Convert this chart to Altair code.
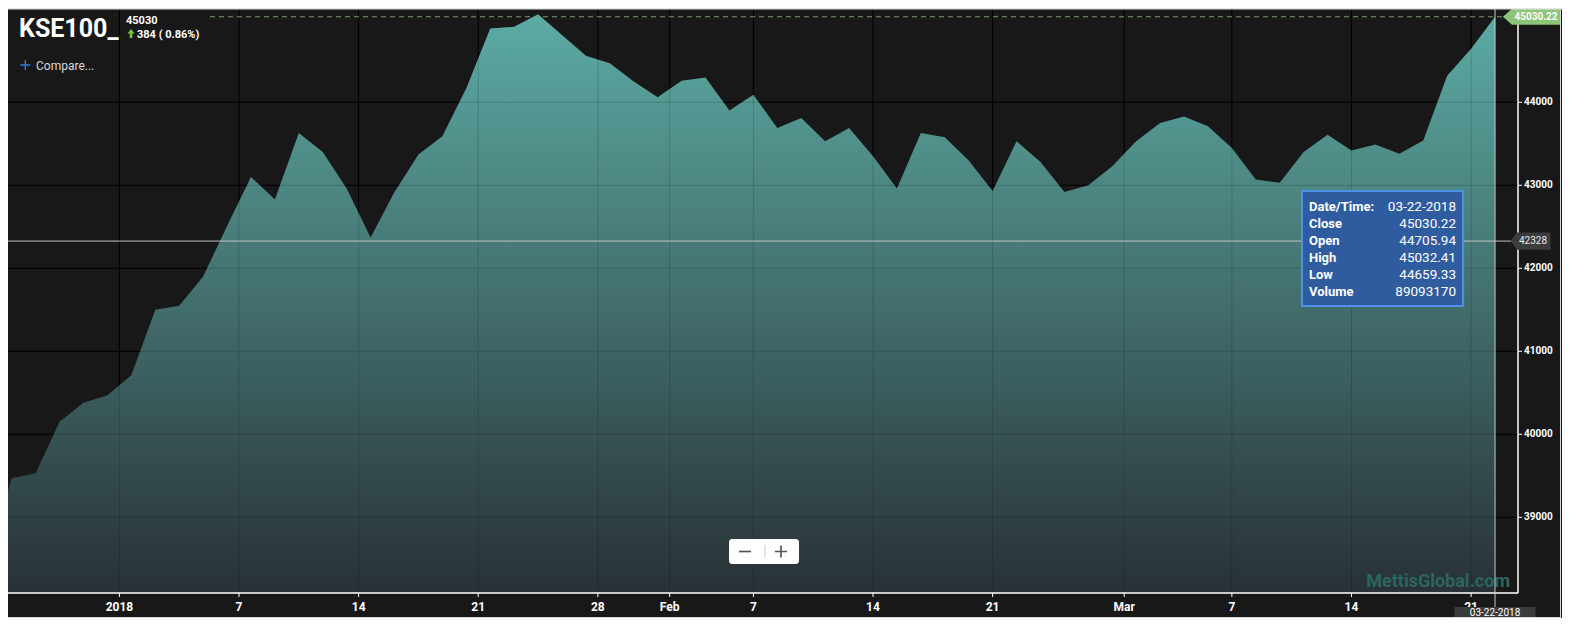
import altair as alt
import pandas as pd

# ---------------- data ----------------
dates = [
    "2017-12-21", "2017-12-22", "2017-12-26", "2017-12-27", "2017-12-28", "2017-12-29",
    "2018-01-01", "2018-01-02", "2018-01-03", "2018-01-04", "2018-01-05",
    "2018-01-08", "2018-01-09", "2018-01-10", "2018-01-11", "2018-01-12",
    "2018-01-15", "2018-01-16", "2018-01-17", "2018-01-18", "2018-01-19",
    "2018-01-22", "2018-01-23", "2018-01-24", "2018-01-25", "2018-01-26",
    "2018-01-29", "2018-01-30", "2018-01-31", "2018-02-01", "2018-02-02",
    "2018-02-06", "2018-02-07", "2018-02-08", "2018-02-09",
    "2018-02-12", "2018-02-13", "2018-02-14", "2018-02-15", "2018-02-16",
    "2018-02-19", "2018-02-20", "2018-02-21", "2018-02-22", "2018-02-23",
    "2018-02-26", "2018-02-27", "2018-02-28", "2018-03-01", "2018-03-02",
    "2018-03-05", "2018-03-06", "2018-03-07", "2018-03-08", "2018-03-09",
    "2018-03-12", "2018-03-13", "2018-03-14", "2018-03-15", "2018-03-16",
    "2018-03-19", "2018-03-20", "2018-03-21", "2018-03-22",
]
closes = [
    38520, 39470, 39530, 40150, 40380, 40470,
    40710, 41500, 41550, 41900, 42510,
    43100, 42830, 43630, 43400, 42960,
    42370, 42920, 43370, 43590, 44170,
    44890, 44910, 45060, 44810, 44560,
    44470, 44250, 44060, 44260, 44300,
    43900, 44090, 43690, 43810,
    43530, 43690, 43350, 42960, 43630,
    43580, 43300, 42930, 43530, 43280,
    42920, 43000, 43230, 43530, 43750,
    43830, 43710, 43450, 43070, 43030,
    43400, 43610, 43420, 43490, 43380,
    43540, 44320, 44646, 45030.22,
]

# x-axis ticks (trading-day index positions) and their labels
tick_positions = [5.5, 10.5, 15.5, 20.5, 25.5, 28.5, 32, 37, 42, 47.5, 52, 57, 62]
tick_labels = ["2018", "7", "14", "21", "28", "Feb", "7", "14", "21", "Mar", "7", "14", "21"]
y_ticks = [39000, 40000, 41000, 42000, 43000, 44000]

symbol = "KSE100_"
last_text = "45030"
change_text = "384 ( 0.86%)"
last_tag = "45030.22"
cursor_value = 42328
cursor_date = "03-22-2018"
tooltip_labels = ["Date/Time:", "Close", "Open", "High", "Low", "Volume"]
tooltip_values = ["03-22-2018", "45030.22", "44705.94", "45032.41", "44659.33", "89093170"]
watermark = "MettisGlobal.com"

# ---------------- layout ----------------
OX, OY = 8, 8              # page margin: plot origin on screen
W, H = 1510, 585           # plot area (screen x 8..1518, y 8..593)
X_DOMAIN = [0.844, 63.96]
Y_DOMAIN = [38088, 45136]
FONT = "Roboto"
WHITE = "#ffffff"

df = pd.DataFrame({"date": dates, "close": closes})
df["i"] = range(len(df))
last = df.tail(1)
one = pd.DataFrame({"a": [0]})
xt = pd.DataFrame({"t": tick_positions, "label": tick_labels})
yt = pd.DataFrame({"v": y_ticks})

xs = alt.Scale(domain=X_DOMAIN, nice=False, zero=False)
ys = alt.Scale(domain=Y_DOMAIN, nice=False, zero=False)


def X(field):
    return alt.X(field, scale=xs, axis=None)


def Y(field):
    return alt.Y(field, scale=ys, axis=None)


def px(v):
    return alt.value(v - OX)


def py(v):
    return alt.value(v - OY)


# grid behind the area
vgrid_bg = alt.Chart(xt).mark_rule(color="#000000", strokeWidth=1).encode(x=X("t:Q"))
hgrid_bg = alt.Chart(yt).mark_rule(color="#000000", strokeWidth=1).encode(
    y=Y("v:Q"), x=alt.value(0), x2=alt.value(W + 2))

grad = alt.Gradient(
    gradient="linear",
    stops=[alt.GradientStop(color="#5caba4", offset=0),
           alt.GradientStop(color="#283135", offset=1)],
    x1=0, x2=0, y1=0, y2=1,
)
area = alt.Chart(df).mark_area(clip=True, color=grad).encode(
    x=X("i:Q"), y=Y("close:Q"), y2=alt.datum(Y_DOMAIN[0]))

# faint grid seen through the filled area
vgrid = alt.Chart(xt).mark_rule(color="#000000", opacity=0.16, strokeWidth=1).encode(x=X("t:Q"))
hgrid = alt.Chart(yt).mark_rule(color="#000000", opacity=0.16, strokeWidth=1).encode(y=Y("v:Q"))

# axes drawn from the scales
x_domain = alt.Chart(one).mark_rule(color=WHITE, strokeWidth=1.5).encode(
    x=alt.value(0), x2=alt.value(W), y=alt.value(H))
x_ticks = alt.Chart(xt).mark_rule(color=WHITE, strokeWidth=1).encode(
    x=X("t:Q"), y=alt.value(H), y2=alt.value(H + 4))
x_labels = alt.Chart(xt).mark_text(
    font=FONT, fontSize=12, fontWeight="bold", color=WHITE, align="center",
    baseline="middle").encode(x=X("t:Q"), y=py(607), text="label:N")
y_domain = alt.Chart(one).mark_rule(color=WHITE, strokeWidth=1.5).encode(
    x=alt.value(W), y=alt.value(0), y2=alt.value(H))
y_tick_marks = alt.Chart(yt).mark_rule(color=WHITE, strokeWidth=1).encode(
    y=Y("v:Q"), x=alt.value(W), x2=alt.value(W + 4))
y_labels = alt.Chart(yt).mark_text(
    font=FONT, fontSize=10, fontWeight="bold", color=WHITE, align="left",
    baseline="middle").encode(y=Y("v:Q"), x=px(1524), text=alt.Text("v:Q", format="d"))

# last value dashed line and tag
last_line = alt.Chart(last).mark_rule(color="#7d9a72", strokeDash=[5, 4], strokeWidth=1).encode(
    y=Y("close:Q"), x=px(210), x2=px(1507))
last_tag_shape = alt.Chart(last).mark_point(
    shape="M-1,0L-0.69,-0.276L1,-0.276L1,0.276L-0.69,0.276Z", size=58 * 58, filled=True,
    color="#8cc47a", opacity=1, strokeWidth=0).encode(y=Y("close:Q"), x=px(1532))
last_tag_text = alt.Chart(last).mark_text(
    text=last_tag, font=FONT, fontSize=10, fontWeight="bold", color=WHITE,
    align="center", baseline="middle").encode(y=Y("close:Q"), x=px(1536))

# crosshair
cur_df = pd.DataFrame({"v": [cursor_value]})
h_cross = alt.Chart(cur_df).mark_rule(color="#c4c4c4", strokeWidth=1).encode(
    y=Y("v:Q"), x=alt.value(0), x2=px(1512))
cur_tag = alt.Chart(cur_df).mark_point(
    shape="M-1,0L-0.68,-0.43L1,-0.43L1,0.43L-0.68,0.43Z", size=40 * 40, filled=True,
    color="#3c3c3c", opacity=1, strokeWidth=0).encode(y=Y("v:Q"), x=px(1530.5))
cur_tag_text = alt.Chart(cur_df).mark_text(
    text=str(cursor_value), font=FONT, fontSize=10, color="#e8e8e8",
    align="center", baseline="middle").encode(y=Y("v:Q"), x=px(1533))
v_cross = alt.Chart(last).mark_rule(color="#c8c8c8", strokeWidth=1).encode(
    x=X("i:Q"), y=alt.value(0), y2=py(608))
date_box = alt.Chart(last).mark_point(
    shape="M-1,-0.136H1V0.136H-1Z", size=81 * 81, filled=True, color="#3b3b3b", opacity=1,
    strokeWidth=0).encode(x=X("i:Q"), y=py(612.5))
date_text = alt.Chart(last).mark_text(
    text=cursor_date, font=FONT, fontSize=10, color=WHITE, align="center",
    baseline="middle").encode(x=X("i:Q"), y=py(613))

# tooltip box
tip_box = alt.Chart(one).mark_rect(color="#2f5c9f", stroke="#4d92e6", strokeWidth=2).encode(
    x=px(1302), x2=px(1463), y=py(191), y2=py(306))
tip_labels = alt.Chart(one).mark_text(
    text=tooltip_labels, lineHeight=17, font=FONT, fontSize=13, fontWeight="bold",
    color=WHITE, align="left", baseline="alphabetic").encode(x=px(1309), y=py(210.5))
tip_values = alt.Chart(one).mark_text(
    text=tooltip_values, lineHeight=17, font=FONT, fontSize=13.5,
    color=WHITE, align="right", baseline="alphabetic").encode(x=px(1456), y=py(210.5))


def txt(text, x, y, size, color, weight="normal", align="left"):
    return alt.Chart(one).mark_text(
        text=text, font=FONT, fontSize=size, fontWeight=weight, color=color,
        align=align, baseline="alphabetic").encode(x=px(x), y=py(y))


title = txt(symbol, 19, 36.5, 25, WHITE, "bold")
last_lbl = txt(last_text, 126, 24, 11, WHITE, "bold")
change_lbl = txt(change_text, 137, 38, 11, WHITE, "bold")
up_arrow = alt.Chart(one).mark_point(
    shape="M0,-1L0.8,0L0.3,0L0.3,1L-0.3,1L-0.3,0L-0.8,0Z", size=81, filled=True,
    color="#78c044", opacity=1, strokeWidth=0).encode(x=px(131), y=py(33.5))
plus = alt.Chart(one).mark_point(
    shape="M-1,-0.13H1V0.13H-1Z M-0.13,-1H0.13V1H-0.13Z", size=100, filled=True,
    color="#3a78e0", opacity=1, strokeWidth=0).encode(x=px(25.3), y=py(65))
compare = txt("Compare...", 36, 70, 12, "#d8d8d8")
mark_wm = txt(watermark, 1510, 587, 18, "#2b6561", "bold", "right")

# zoom buttons
zoom_box = alt.Chart(one).mark_rect(color=WHITE, cornerRadius=3).encode(
    x=px(729), x2=px(799), y=py(539), y2=py(564))
zoom_sep = alt.Chart(one).mark_rule(color="#cfcfcf", strokeWidth=1).encode(
    x=px(765), y=py(545), y2=py(558))
zoom_minus = alt.Chart(one).mark_point(
    shape="M-1,-0.14H1V0.14H-1Z", size=144, filled=True, color="#555555", opacity=1,
    strokeWidth=0).encode(x=px(745), y=py(551.5))
zoom_plus = alt.Chart(one).mark_point(
    shape="M-1,-0.14H1V0.14H-1Z M-0.14,-1H0.14V1H-0.14Z", size=144, filled=True,
    color="#555555", opacity=1, strokeWidth=0).encode(x=px(781), y=py(551.5))

# frame lines
frame_top = alt.Chart(one).mark_rule(color="#e6e6e6", strokeWidth=1.5).encode(
    x=alt.value(0), x2=alt.value(1554), y=alt.value(0.75))
frame_right = alt.Chart(one).mark_rule(color="#d8d8d8", strokeWidth=1).encode(
    x=alt.value(1552.5), y=alt.value(0), y2=alt.value(609))
frame_bottom = alt.Chart(one).mark_rule(color="#d8d8d8", strokeWidth=1).encode(
    x=alt.value(0), x2=alt.value(1553), y=alt.value(609.5))

chart = alt.layer(
    vgrid_bg, hgrid_bg, area, vgrid, hgrid, mark_wm,
    x_domain, x_ticks, x_labels, y_domain, y_tick_marks, y_labels,
    last_line, h_cross, v_cross,
    last_tag_shape, last_tag_text, cur_tag, cur_tag_text,
    date_box, date_text, tip_box, tip_labels, tip_values,
    title, last_lbl, change_lbl, up_arrow, plus, compare,
    zoom_box, zoom_sep, zoom_minus, zoom_plus,
    frame_top, frame_right, frame_bottom,
).properties(
    width=W, height=H,
    padding={"left": 0, "top": 0, "right": 44, "bottom": 25},
    autosize=alt.AutoSizeParams(type="none"),
).configure(background="#181818").configure_view(strokeWidth=0)

chart.save("out.html", embed_options={"renderer": "svg", "actions": False})
